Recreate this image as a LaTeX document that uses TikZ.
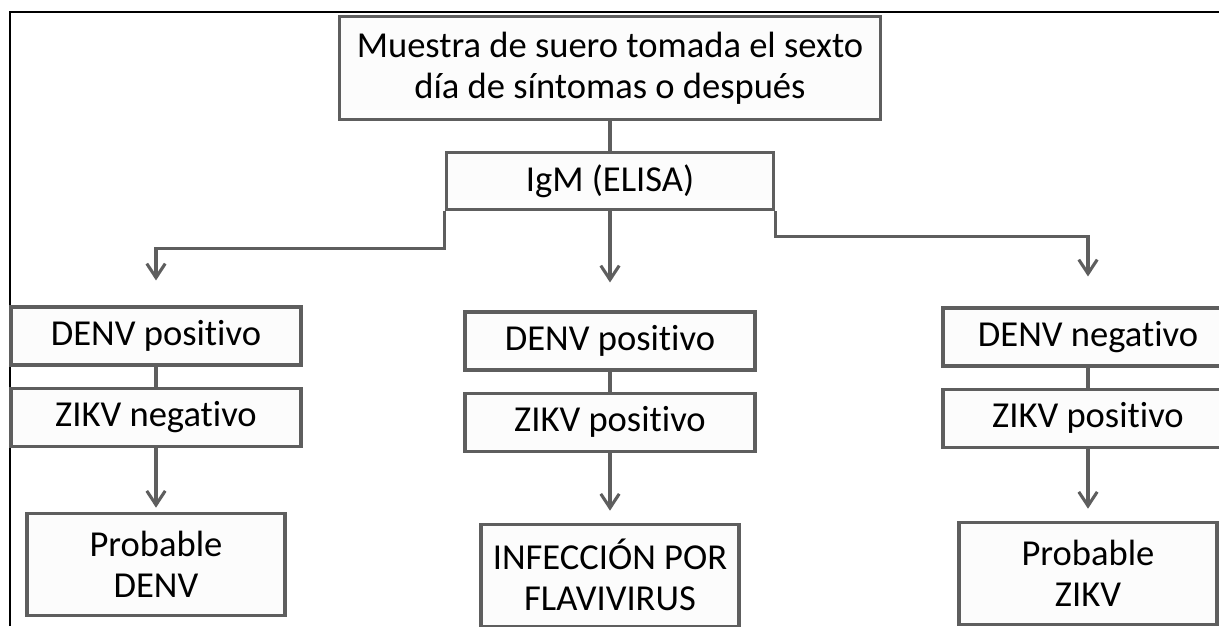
\documentclass[tikz,border=0pt]{standalone}
\usepackage{fontspec}
\setmainfont{Carlito}[Ligatures=NoCommon]
\usetikzlibrary{arrows.meta,positioning}
\definecolor{boxgray}{HTML}{5E5E5E}
\definecolor{boxfill}{HTML}{FCFCFC}

\begin{document}
\begin{tikzpicture}[x=0.025cm, y=-0.025cm, node distance=0.5cm,
    box/.style={draw=boxgray, fill=boxfill, line width=2.2pt, inner sep=0pt,
      align=center, font=\fontsize{26}{29}\selectfont},
    testbox/.style={box, minimum width=7.25cm, minimum height=1.45cm},
    resbox/.style={box, minimum width=6.45cm, minimum height=2.55cm},
    link/.style={draw=boxgray, line width=2.2pt},
    arr/.style={link, -{Straight Barb[length=3.5mm, width=4.6mm]}}]
      \useasboundingbox (0,0) rectangle (1219,626);
      \clip (0,0) rectangle (1219,626);
      \draw[line width=1.4pt] (10,626) -- (10,12) -- (1219,12);

      \node[box, minimum width=13.5cm, minimum height=2.575cm] (muestra) at (610,68)
        {Muestra de suero tomada el sexto\\día de síntomas o después};
      \node[box, minimum width=8.175cm, minimum height=1.425cm] (igm) at (610,181) {IgM (ELISA)};

      % left branch
      \node[testbox] (lden) at (156,336) {DENV positivo};
      \node[testbox] (lzik) [below= of lden] {ZIKV negativo};
      \node[resbox] (lres) [below= 1.6cm of lzik] {Probable\\DENV};

      % middle branch
      \node[testbox] (mden) at (610,341) {DENV positivo};
      \node[testbox] (mzik) [below= of mden] {ZIKV positivo};
      \node[resbox] (mres) [below= 1.75cm of mzik] {INFECCIÓN POR\\FLAVIVIRUS};

      % right branch
      \node[testbox] (rden) at (1088,337) {DENV negativo};
      \node[testbox] (rzik) [below= of rden] {ZIKV positivo};
      \node[resbox] (rres) [below= 1.8cm of rzik] {Probable\\ZIKV};

      \path[link] (muestra) -- (igm);
      \path[arr, shorten >=0.625cm] (igm.south west) -- ++(0,37) -| (lden.north);
      \path[arr, shorten >=0.7cm] (igm.south) -- (mden.north);
      \path[arr, shorten >=0.75cm] (igm.south east) -- ++(0,25) -| (rden.north);

      \path[link] (lden) -- (lzik);
      \path[link] (mden) -- (mzik);
      \path[link] (rden) -- (rzik);

      \path[arr, shorten >=0.1cm] (lzik) -- (lres);
      \path[arr, shorten >=0.3cm] (mzik) -- (mres);
      \path[arr, shorten >=0.3cm] (rzik) -- (rres);
    \end{tikzpicture}
\end{document}
